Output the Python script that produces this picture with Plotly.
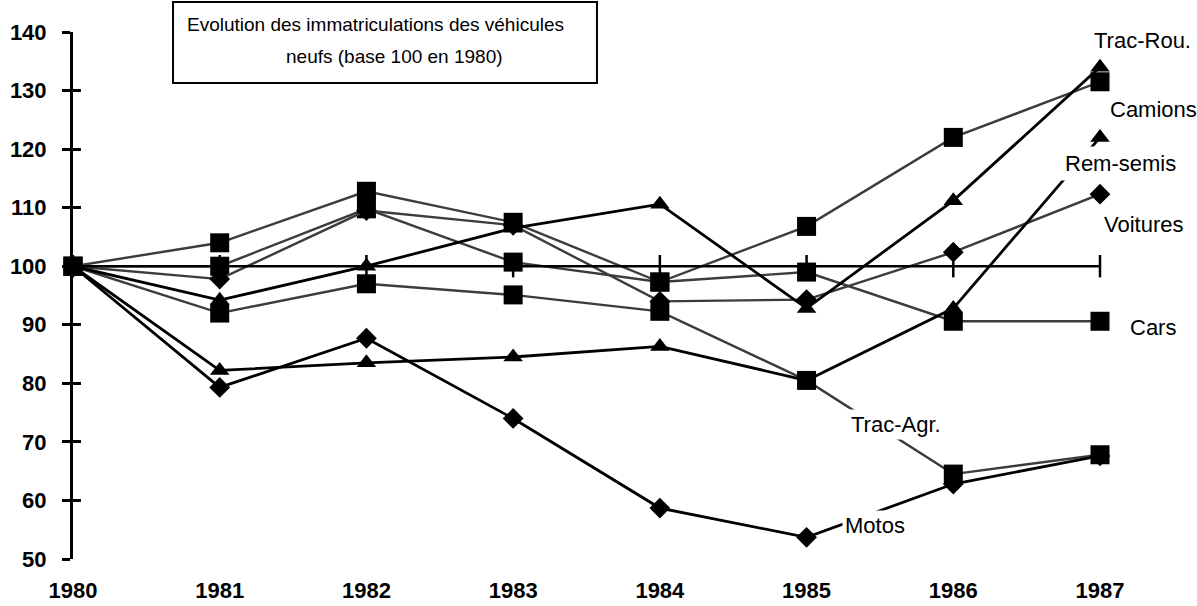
import plotly.graph_objects as go

years = [1980, 1981, 1982, 1983, 1984, 1985, 1986, 1987]
base = [100, 100, 100, 100, 100, 100, 100, 100]
camions = [100, 104, 112.8, 107.5, 97.3, 106.8, 122, 131.5]
voitures = [100, 97.8, 109.5, 107, 94, 94.3, 102.4, 112.3]
cars = [100, 100, 109.8, 100.7, 97.3, 99, 90.6, 90.6]
trac_agr = [100, 92, 97, 95.1, 92.3, 80.5, 64.5, 67.8]
trac_rou = [100, 94.2, 100, 106.5, 110.6, 92.8, 111.2, 134]
rem_semis = [100, 82.2, 83.5, 84.5, 86.3, 80.5, 92.8, 122]
motos = [100, 79.3, 87.7, 74, 58.7, 53.7, 62.8, 67.6]

label_names = ["Trac-Rou.", "Camions", "Rem-semis", "Voitures", "Cars", "Trac-Agr.", "Motos"]
# label anchor positions in paper fractions (left edge, vertical middle)
label_px = [0.9922, 1.0078, 0.9611, 1.0019, 1.0273, 0.7546, 0.7488]
label_py = [0.9840, 0.8520, 0.7514, 0.6338, 0.4402, 0.2543, 0.0645]
label_pad = [1, 1, 4, 1, 1, 2, 2]

y_ticks = [50, 60, 70, 80, 90, 100, 110, 120, 130, 140]

GRAY = "#3c3c3c"
BLACK = "#000000"
FONT = "Liberation Sans, Arial, sans-serif"

fig = go.Figure()

# baseline 100 (drawn on overlay axis that carries the inner ticks)
fig.add_trace(go.Scatter(
    x=years, y=base, mode="lines+markers", yaxis="y2",
    line=dict(color=BLACK, width=2.5),
    marker=dict(symbol="line-ns", size=16, line=dict(color=BLACK, width=2.5)),
    cliponaxis=False, showlegend=False, hoverinfo="skip"))

series = [
    (trac_agr, "square", 19, GRAY, 2.4),
    (cars, "square", 19, GRAY, 2.4),
    (voitures, "diamond", 16, GRAY, 2.4),
    (camions, "square", 19, GRAY, 2.4),
    (motos, "diamond", 16, BLACK, 2.8),
    (rem_semis, "triangle-up", 17, BLACK, 2.8),
    (trac_rou, "triangle-up", 17, BLACK, 2.8),
]
for vals, sym, sz, col, w in series:
    fig.add_trace(go.Scatter(
        x=years, y=vals, mode="lines+markers",
        line=dict(color=col, width=w),
        marker=dict(symbol=sym, size=sz, color=BLACK, line=dict(width=0)),
        cliponaxis=False, showlegend=False))

for name, lx, ly, pad in zip(label_names, label_px, label_py, label_pad):
    fig.add_annotation(x=lx, y=ly, xref="paper", yref="paper", text=name, showarrow=False,
                       xanchor="left", yanchor="middle", bgcolor="white", borderpad=pad,
                       font=dict(family=FONT, size=22, color="black"))

# title box
fig.add_shape(type="rect", xref="paper", yref="paper", x0=0.0974, x1=0.5102, y0=0.9032, y1=1.0569,
              line=dict(color="black", width=2), fillcolor="white", layer="above")
fig.add_annotation(x=0.295, y=1.0133, xref="paper", yref="paper", showarrow=False,
                   text="Evolution des immatriculations des véhicules", xanchor="center", yanchor="middle",
                   font=dict(family=FONT, size=19, color="black"))
fig.add_annotation(x=0.3135, y=0.9526, xref="paper", yref="paper", showarrow=False,
                   text="neufs (base 100 en 1980)", xanchor="center", yanchor="middle",
                   font=dict(family=FONT, size=19, color="black"))

tickfont = dict(family=FONT, size=22, color="black", weight="bold")

fig.update_layout(
    width=1197, height=606,
    margin=dict(l=73, r=97, t=32, b=47, autoexpand=False),
    paper_bgcolor="white", plot_bgcolor="white",
    xaxis=dict(range=[1980, 1987], tickmode="array", tickvals=years, ticktext=[str(y) for y in years],
               showline=False, showgrid=False, zeroline=False, ticks="", tickfont=tickfont,
               ticklabelstandoff=16, automargin=False),
    yaxis=dict(range=[50, 140], tickmode="array", tickvals=y_ticks, showgrid=False, zeroline=False,
               showline=True, linecolor="black", linewidth=3, ticks="outside", ticklen=8, tickwidth=3,
               tickcolor="black", tickfont=tickfont, ticklabelstandoff=11, automargin=False),
    yaxis2=dict(range=[50, 140], overlaying="y", side="left", tickmode="array", tickvals=y_ticks,
                showgrid=False, zeroline=False, showline=False, ticks="inside", ticklen=8, tickwidth=3,
                tickcolor="black", showticklabels=False, automargin=False),
)

fig.write_html("out.html", config={"displayModeBar": False},
               post_script="document.body.style.margin='0';document.body.style.overflow='hidden';")
